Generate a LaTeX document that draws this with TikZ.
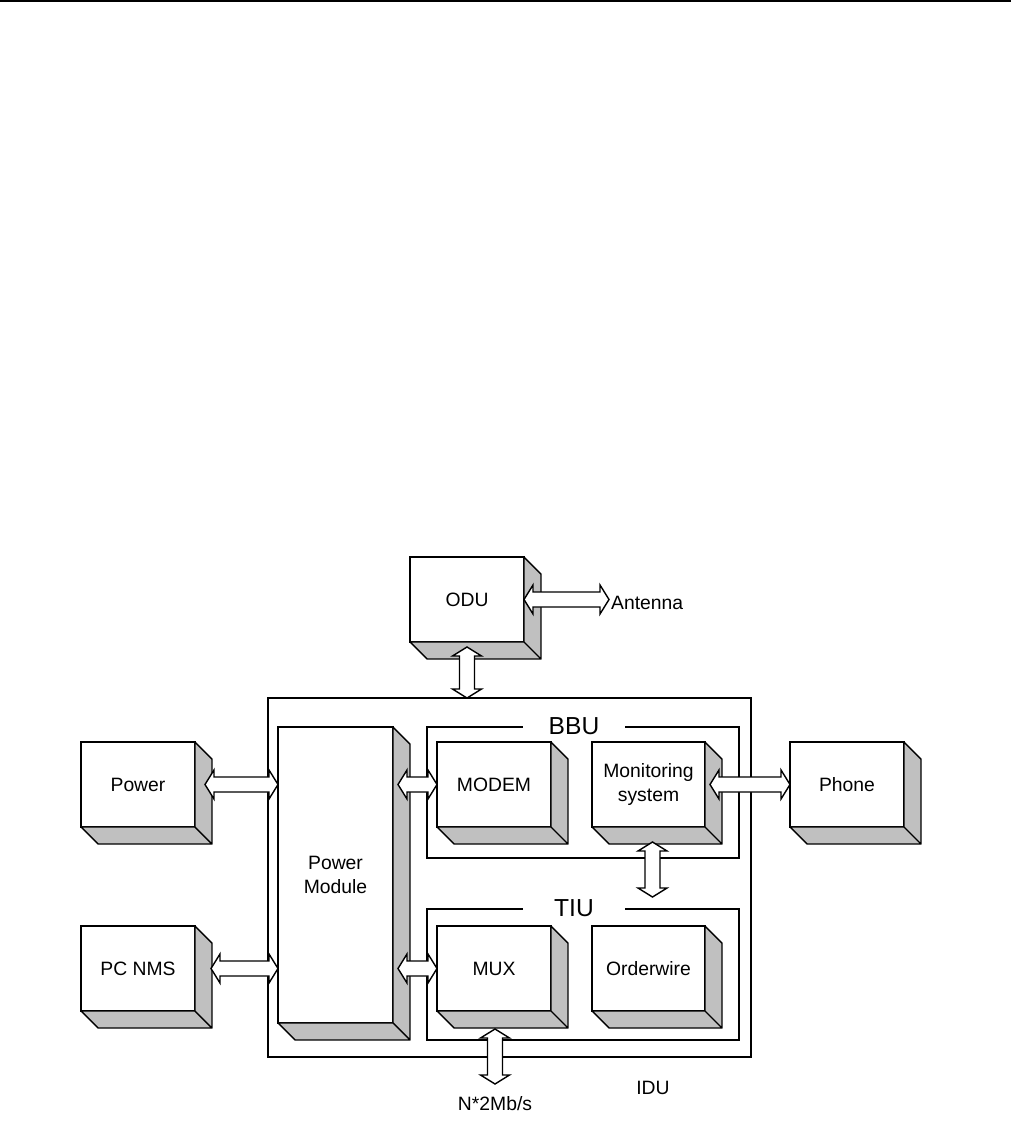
\documentclass[tikz,border=0pt]{standalone}
\usepackage{fontspec}
\setmainfont{Liberation Sans}
\usetikzlibrary{calc,positioning}
\definecolor{boxside}{RGB}{192,192,192}
\newcommand{\ahlen}{0.18cm}
\newcommand{\ahwid}{0.29cm}
\newcommand{\ashaft}{0.15cm}
\tikzset{
  blk/.style={draw=black, fill=white, line width=0.8pt, outer sep=0pt,
              minimum width=2.28cm, minimum height=1.70cm, align=center,
              font=\fontsize{11}{13.5}\selectfont},
  side/.style={draw=black, fill=boxside, line width=0.8pt, line join=round},
  grp/.style={draw=black, line width=0.8pt, outer sep=0pt},
  grplab/.style={fill=white, inner sep=0pt, minimum width=2.04cm, minimum height=0.56cm,
                 font=\fontsize{14}{16}\selectfont},
  dar/.style={draw=black, fill=white, line width=0.8pt, line join=miter},
  txt/.style={font=\fontsize{11}{13}\selectfont, inner sep=1pt},
}
% grey faces below and right of a block
\newcommand{\depth}[1]{%
  \draw[side] (#1.north east) -- ++(17,17) -- ($(#1.south east)+(17,17)$) -- (#1.south east) -- cycle
              (#1.south west) -- ++(17,17) -- ($(#1.south east)+(17,17)$) -- (#1.south east) -- cycle;}
% hollow double arrows
\newcommand{\hdar}[2]{%
  \draw[dar] let \p1=#1, \p2=#2 in
    (\x1,\y1) -- (\x1+\ahlen,\y1+\ahwid) -- (\x1+\ahlen,\y1+\ashaft)
    -- (\x2-\ahlen,\y1+\ashaft) -- (\x2-\ahlen,\y1+\ahwid) -- (\x2,\y1)
    -- (\x2-\ahlen,\y1-\ahwid) -- (\x2-\ahlen,\y1-\ashaft)
    -- (\x1+\ahlen,\y1-\ashaft) -- (\x1+\ahlen,\y1-\ahwid) -- cycle;}
\newcommand{\vdar}[2]{%
  \draw[dar] let \p1=#1, \p2=#2 in
    (\x1,\y1) -- (\x1+\ahwid,\y1-\ahlen) -- (\x1+\ashaft,\y1-\ahlen)
    -- (\x1+\ashaft,\y2+\ahlen) -- (\x1+\ahwid,\y2+\ahlen) -- (\x1,\y2)
    -- (\x1-\ahwid,\y2+\ahlen) -- (\x1-\ashaft,\y2+\ahlen)
    -- (\x1-\ashaft,\y1-\ahlen) -- (\x1-\ahwid,\y1-\ahlen) -- cycle;}

\begin{document}
\begin{tikzpicture}[x=0.02cm, y=-0.02cm]
    \useasboundingbox (0,0) rectangle (1011,1121);
    \draw[line width=1.7pt] (0,1) -- (1011,1);

    % IDU frame and the two groups
    \node[grp, minimum width=9.66cm, minimum height=7.18cm] (idu) at (509.5,877.5) {};
    \node[grp, minimum width=6.24cm, minimum height=2.62cm] (bbu) at (583,792.5) {};
    \node[grp, minimum width=6.24cm, minimum height=2.62cm] (tiu) at (583,974.5) {};
    \node[grplab] (bbulab) at (574,726) {BBU};
    \node[grplab] (tiulab) at (574,908) {TIU};

    % blocks
    \node[blk] (odu) at (467,599.5) {ODU};
    \node[blk] (pwr) at (138,784.5) {Power};
    \node[blk] (nms) at (138,968.5) {PC NMS};
    \node[blk, minimum width=2.30cm, minimum height=5.92cm] (pm) at (335.5,875) {Power\\Module};
    \node[blk] (modem) at (494,784.5) {MODEM};
    \node[blk, minimum width=2.26cm] (mon) at (648.5,784.5) {Monitoring\\system};
    \node[blk] (phone) at (847,784.5) {Phone};
    \node[blk] (mux) at (494,968.5) {MUX};
    \node[blk, minimum width=2.26cm] (ow) at (648.5,968.5) {Orderwire};
    \foreach \b in {odu,pwr,nms,pm,modem,mon,phone,mux,ow} {\depth{\b}}

    % free labels
    \node[txt, anchor=west] (ant) at (609,603) {Antenna};
    \node[txt] (idulab) at (653,1087.5) {IDU};
    \node[txt] (rate) at (495,1103.5) {N*2Mb/s};

    % links
    \hdar{(odu.east)}{(ant.west)}
    \vdar{($(odu.south)+(0,5)$)}{(idu.north)}
    \hdar{($(pwr.east)+(10,0)$)}{(pm.west |- pwr.east)}
    \hdar{($(nms.east)+(16,0)$)}{(pm.west |- nms.east)}
    \hdar{($(pm.east |- modem.west)+(5,0)$)}{(modem.west)}
    \hdar{($(pm.east |- mux.west)+(5,0)$)}{(mux.west)}
    \hdar{($(mon.east)+(5,0)$)}{(phone.west)}
    \vdar{($(mon.south)+(4,15)$)}{($(tiu.north)+(0,-12)$)}
    \vdar{($(mux.south)+(1,18)$)}{($(mux.south)+(1,73)$)}
\end{tikzpicture}
\end{document}
